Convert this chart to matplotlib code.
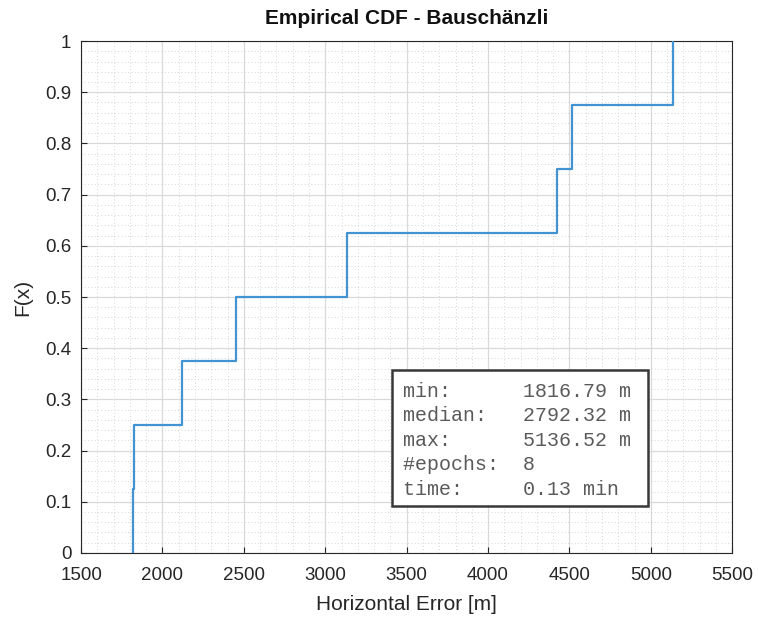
import numpy as np
import matplotlib.pyplot as plt
from matplotlib.patches import Rectangle
from matplotlib.ticker import MultipleLocator

# horizontal position errors per epoch (m)
errors = [1816.79, 1822.0, 2120.0, 2449.6, 3135.04, 4426.0, 4515.0, 5136.52]
run_time_min = 0.13

title = "Empirical CDF - Bauschänzli"
xlabel = "Horizontal Error [m]"
ylabel = "F(x)"

x_sorted = np.sort(errors)
n = len(x_sorted)
F = np.arange(1, n + 1) / n

# stair-step ecdf: vertical jump at each sample
xs = np.repeat(x_sorted, 2)
ys = np.empty(2 * n)
ys[0::2] = F - 1.0 / n
ys[1::2] = F

plt.rcParams["font.family"] = ["Liberation Sans", "DejaVu Sans"]

fig = plt.figure(figsize=(7.58, 6.22), dpi=100)
ax = fig.add_axes([0.107, 0.111, 0.859, 0.823])

ax.plot(xs, ys, color="#4393d3", lw=1.6, zorder=3)

ax.set_xlim(1500, 5500)
ax.set_ylim(0, 1)
ax.xaxis.set_major_locator(MultipleLocator(500))
ax.xaxis.set_minor_locator(MultipleLocator(100))
ax.yaxis.set_minor_locator(MultipleLocator(0.02))
ax.set_yticks(np.arange(0, 1.01, 0.1))
ax.set_yticklabels(["0"] + ["%.1f" % v for v in np.arange(0.1, 0.95, 0.1)] + ["1"])

ax.grid(True, which="major", color="#d9d9d9", lw=0.9, zorder=0)
ax.grid(True, which="minor", color="#c8c8c8", lw=0.6, ls=(0, (1, 3)), zorder=0)
ax.tick_params(which="both", direction="in", top=False, right=False,
               colors="#262626", labelsize=13.5)
ax.tick_params(which="minor", length=0)
ax.tick_params(which="major", length=4)
ax.tick_params(axis="x", pad=10)
ax.tick_params(axis="y", pad=7)
for s in ax.spines.values():
    s.set_color("#262626")
    s.set_linewidth(0.8)

ax.set_title(title, fontsize=15, fontweight="bold", color="#111111", pad=12)
ax.set_xlabel(xlabel, fontsize=15, color="#262626", labelpad=8)
ax.set_ylabel(ylabel, fontsize=15, color="#262626", labelpad=9)

# stats box
labels = ["min:", "median:", "max:", "#epochs:", "time:"]
values = [
    "%.2f m" % np.min(errors),
    "%.2f m" % np.median(errors),
    "%.2f m" % np.max(errors),
    "%d" % n,
    "%.2f min" % run_time_min,
]
box = Rectangle((0.478, 0.092), 0.393, 0.265, transform=ax.transAxes,
                facecolor="white", edgecolor="#383838", lw=1.8, zorder=5)
ax.add_patch(box)
for i, (lab, val) in enumerate(zip(labels, values)):
    ax.text(0.494, 0.316 - i * 0.0479, "%-10s%s" % (lab, val),
            transform=ax.transAxes, family="Liberation Mono", fontsize=14.4,
            color="#5a5a5a", va="center", ha="left", zorder=6)

fig.savefig("out.png", dpi=100, facecolor="white")
